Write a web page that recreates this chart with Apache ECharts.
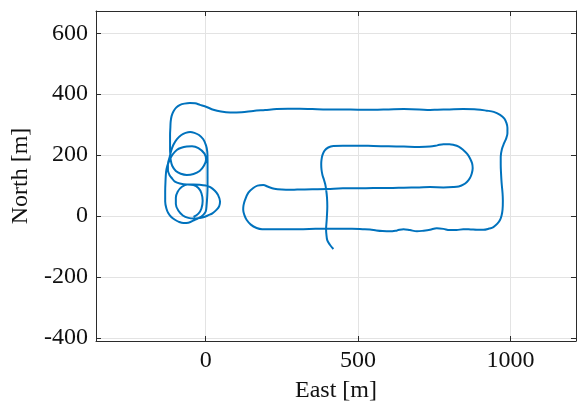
<!DOCTYPE html>
<html>
<head>
<meta charset="utf-8">
<script src="https://cdn.jsdelivr.net/npm/echarts@6/dist/echarts.min.js"></script>
<style>
html,body{margin:0;padding:0;background:#fff;}
#chart{width:577px;height:408px;}
</style>
</head>
<body>
<div id="chart"></div>
<script>
// Trajectory (East, North) in metres
const east = [
  419,408,399,396,395,397,399,398,395,392,388,383,380,379,380,383,390,402,419,
  450,500,550,600,650,700,736,760,780,800,812,830,845,858,867,874,876,873,867,857,845,830,812,780,736,700,650,600,550,500,450,400,350,300,277,250,225,205,189,170,156,140,129,124,123,127,134,148,167,185,200,240,277,320,360,400,440,480,515,539,560,580,605,628,649,670,693,715,736,758,780,800,823,845,870,890,911,930,944,957,966,971,974,975,974,971,969,968,968,972,979,986,990,990,987,980,966,945,922,890,845,800,760,736,700,650,600,550,500,450,400,350,309,270,233,195,156,118,80,50,25,3,-19,-35,-52,-70,-84,-97,-106,-112,-115,-116,-117,-117,-117,-116,-115,
  -110,-98,-82,-62,-40,-20,-6,1,-4,-24,-45,-62,-80,-95,-108,-118,
  -126,-130,-132,-133,-133,-129,-123,-113,-101,-88,-73,-57,-41,-22,-8,0,3,5,6,6,6,6,5,1,-8,-22,-37,-51,-66,-80,-95,-106,-113,-118,-124,-124,-119,-110,-101,-85,-62,-40,-20,0,15,30,40,47,44,36,22,9,-5,-19,-38,-57,-75,-90,-98,-98,-92,-78,-60,-40,-24,-14,-10,-14,-24,-40
];
const north = [
  -108,-95,-80,-60,-43,-12,31,60,88,105,119,135,152,170,185,200,215,225,230,
  231,231,230,229,228,227,228,232,236,236,234,228,217,204,190,173,157,140,125,112,103,97,95,94,95,94,93,92,92,91,91,89,88,87,86,87,90,96,102,100,92,77,53,35,21,3,-12,-28,-39,-43,-43,-43,-43,-43,-42,-42,-42,-42,-43,-44,-47,-49,-50,-47,-43,-46,-50,-48,-45,-40,-42,-46,-46,-43,-44,-45,-45,-41,-36,-25,-12,3,21,50,75,108,141,170,195,220,239,255,272,290,305,320,332,342,346,350,351,350,349,348,350,351,350,349,349,350,350,351,352,352,351,348,345,341,340,343,349,358,365,370,371,369,365,356,343,328,310,290,267,240,218,200,185,
  165,148,139,135,138,148,165,185,205,223,229,228,224,217,203,185,
  165,145,113,80,48,25,10,-3,-12,-19,-23,-22,-15,-6,4,15,37,65,92,125,157,185,212,232,252,266,273,276,273,266,252,234,215,195,170,150,135,123,113,107,104,104,103,100,95,83,70,48,32,21,9,3,-3,-6,-8,-6,2,18,40,60,80,96,104,102,92,75,50,25,8,-3
];
// Axis limits and tick labels
const eastLimits = [-360, 1215];
const northLimits = [-410, 673];
const eastTicks = [0, 500, 1000];
const northTicks = [-400, -200, 0, 200, 400, 600];

const pathData = east.map((e, i) => [e, north[i]]);

const FONT = '"Liberation Serif", "DejaVu Serif", serif';
const axisColor = '#2b2b2b';
const gridColor = '#e3e3e3';
const plain = v => String(v);

const chart = echarts.init(document.getElementById('chart'), null, {renderer: 'canvas'});
chart.setOption({
  animation: false,
  backgroundColor: '#ffffff',
  grid: {left: 96, top: 11, right: 1, bottom: 67, containLabel: false},
  xAxis: [{
    type: 'value', position: 'bottom', min: eastLimits[0], max: eastLimits[1],
    name: 'East [m]', nameLocation: 'middle', nameGap: 38,
    nameTextStyle: {fontFamily: FONT, fontSize: 24, color: '#111'},
    axisLine: {show: true, onZero: false, lineStyle: {color: axisColor, width: 1}},
    axisTick: {show: true, inside: true, length: 5, customValues: eastTicks, lineStyle: {color: axisColor}},
    axisLabel: {customValues: eastTicks, formatter: plain, fontFamily: FONT, fontSize: 24, color: '#111', margin: 8},
    splitLine: {show: true, lineStyle: {color: gridColor, width: 1}}
  }, {
    type: 'value', position: 'top', min: eastLimits[0], max: eastLimits[1],
    axisLine: {show: true, onZero: false, lineStyle: {color: axisColor, width: 1}},
    axisTick: {show: true, inside: true, length: 5, customValues: eastTicks, lineStyle: {color: axisColor}},
    axisLabel: {show: false},
    splitLine: {show: false}
  }],
  yAxis: [{
    type: 'value', position: 'left', min: northLimits[0], max: northLimits[1],
    name: 'North [m]', nameLocation: 'middle', nameGap: 57,
    nameTextStyle: {fontFamily: FONT, fontSize: 24, color: '#111'},
    axisLine: {show: true, onZero: false, lineStyle: {color: axisColor, width: 1}},
    axisTick: {show: true, inside: true, length: 5, customValues: northTicks, lineStyle: {color: axisColor}},
    axisLabel: {customValues: northTicks, formatter: plain, fontFamily: FONT, fontSize: 24, color: '#111', margin: 8},
    splitLine: {show: true, lineStyle: {color: gridColor, width: 1}}
  }, {
    type: 'value', position: 'right', min: northLimits[0], max: northLimits[1],
    axisLine: {show: true, onZero: false, lineStyle: {color: axisColor, width: 1}},
    axisTick: {show: true, inside: true, length: 5, customValues: northTicks, lineStyle: {color: axisColor}},
    axisLabel: {show: false},
    splitLine: {show: false}
  }],
  series: [{
    type: 'line',
    xAxisIndex: 0, yAxisIndex: 0,
    data: pathData,
    showSymbol: false,
    smooth: 0.35,
    clip: true,
    lineStyle: {color: '#0072BD', width: 2}
  }]
});
</script>
</body>
</html>
